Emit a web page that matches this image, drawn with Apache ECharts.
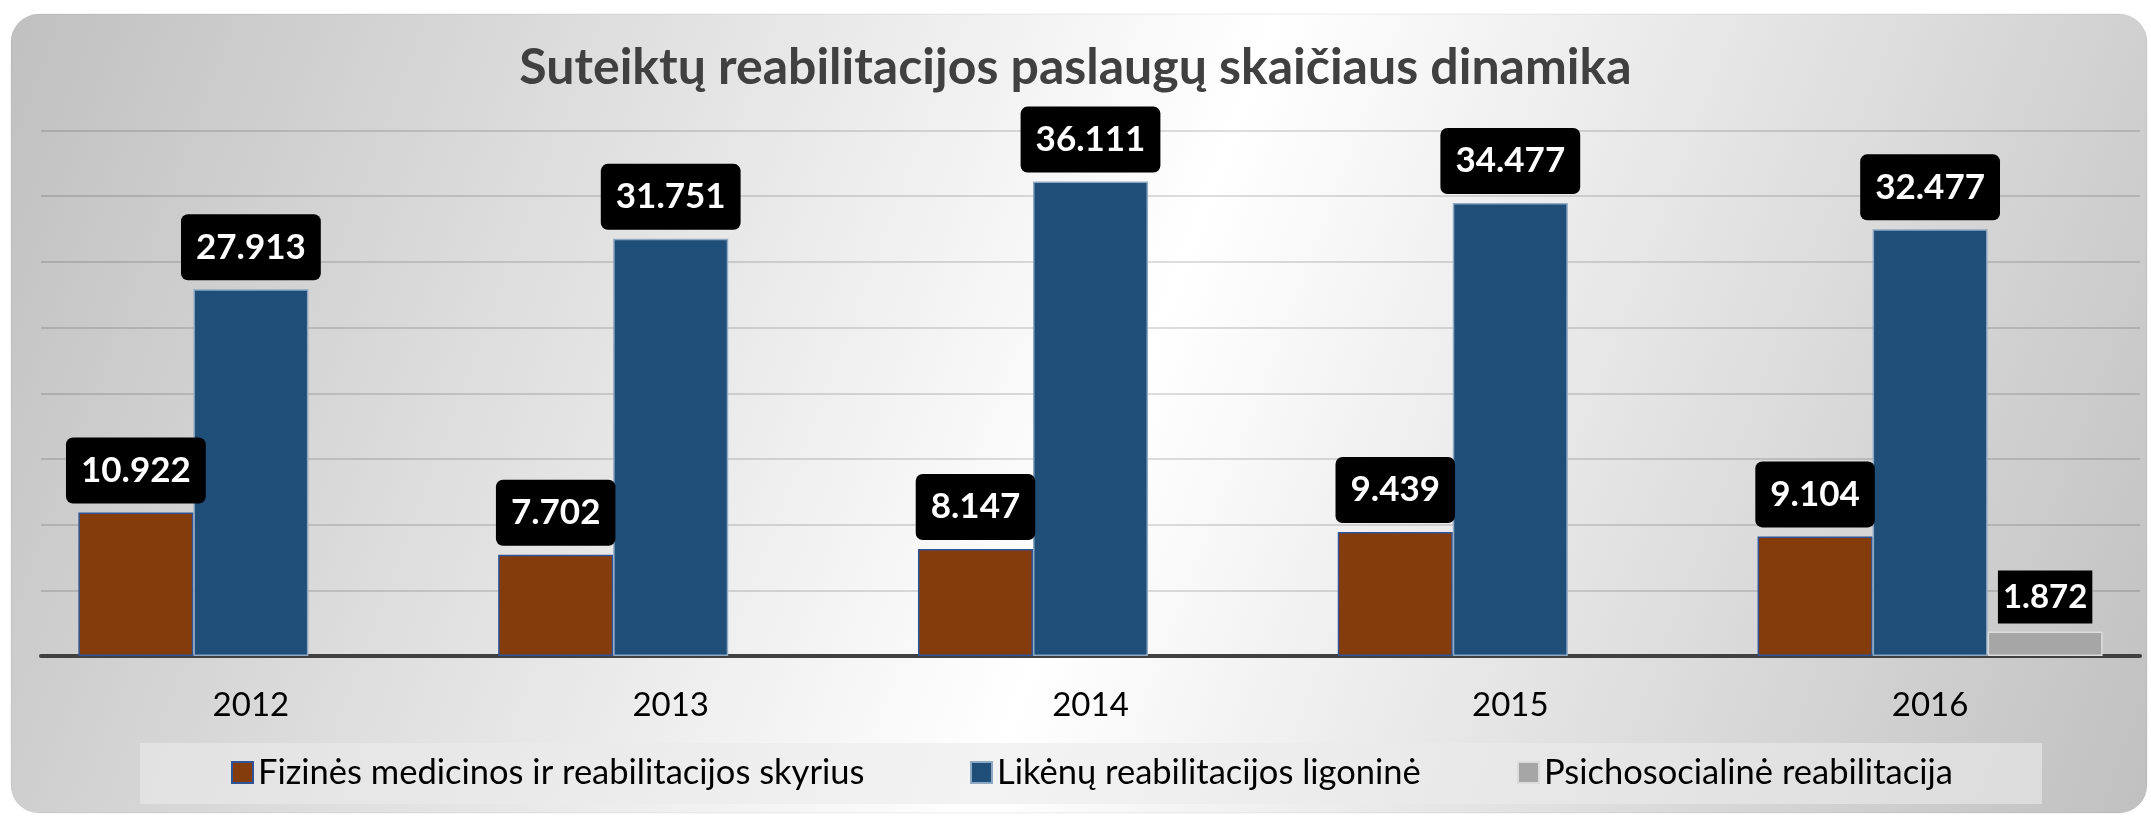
<!DOCTYPE html>
<html>
<head>
<meta charset="utf-8">
<script src="https://cdn.jsdelivr.net/npm/echarts@6/dist/echarts.min.js"></script>
<style>
  html, body { margin: 0; padding: 0; background: #ffffff; }
  #chartArea { width: 2151px; height: 816px; }
</style>
</head>
<body>
<div id="chartArea"></div>
<script>
var years = ['2012', '2013', '2014', '2015', '2016'];
var seriesNames = [
    'Fizinės medicinos ir reabilitacijos skyrius',
    'Likėnų reabilitacijos ligoninė',
    'Psichosocialinė reabilitacija'
];
var fizinesValues = [10922, 7702, 8147, 9439, 9104];
var likenuValues = [27913, 31751, 36111, 34477, 32477];
var psichoValues = [null, null, null, null, 1872];

var colors = ['#843c0c', '#1f4e79', '#a6a6a6'];
var borders = ['#2f5496', '#8fa9c4', '#dcdcdc'];
var font = 'Lato';

function thousands(v) {
    return String(v).replace(/\B(?=(\d{3})+(?!\d))/g, '.');
}

var blackLabel = {
    show: true,
    position: 'top',
    distance: 9,
    formatter: function(p) { return thousands(p.value); },
    color: '#ffffff',
    fontFamily: font,
    fontWeight: 'bold',
    fontSize: 35,
    lineHeight: 40,
    backgroundColor: '#000000',
    borderRadius: 7,
    padding: [13, 15]
};

function barSeries(i, values, label) {
    return {
        name: seriesNames[i],
        type: 'bar',
        data: values,
        barGap: '0%',
        barCategoryGap: '17.8%',
        itemStyle: { color: colors[i], borderColor: borders[i], borderWidth: 1.5 },
        label: label
    };
}

function legendFor(i, left) {
    return {
        left: left,
        top: 755,
        padding: 0,
        icon: 'rect',
        itemWidth: 21,
        itemHeight: 21,
        data: [{ name: seriesNames[i], itemStyle: { color: colors[i], borderColor: i === 0 ? '#2f5496' : borders[i], borderWidth: 2 } }],
        textStyle: { fontFamily: font, fontSize: 34.5, color: '#000000' }
    };
}

var myChart = echarts.init(document.getElementById('chartArea'));

myChart.setOption({
    animation: false,
    graphic: [
        {
            type: 'rect', z: -10, silent: true,
            shape: { x: 11, y: 14, width: 2136, height: 799, r: 28 },
            style: {
                fill: new echarts.graphic.LinearGradient(0, 0, 1, 1, [
                    { offset: 0, color: '#c0c0c0' },
                    { offset: 0.52, color: '#ffffff' },
                    { offset: 1, color: '#c0c0c0' }
                ]),
                stroke: 'rgba(0,0,0,0.07)',
                lineWidth: 1
            }
        },
        {
            type: 'rect', z: -5, silent: true,
            shape: { x: 140, y: 743, width: 1902, height: 61 },
            style: { fill: 'rgba(235,235,235,0.6)' }
        }
    ],
    title: {
        text: 'Suteiktų reabilitacijos paslaugų skaičiaus dinamika',
        left: 'center',
        top: 43,
        padding: [0, 0, 0, 54],
        textStyle: { fontFamily: font, fontWeight: 'bold', fontSize: 50, lineHeight: 50, color: '#404040' }
    },
    legend: [legendFor(0, 231), legendFor(1, 970), legendFor(2, 1517)],
    grid: { left: 41, right: 11, top: 130.5, bottom: 160 },
    xAxis: {
        type: 'category',
        data: years,
        axisLine: { lineStyle: { color: '#404040', width: 4 } },
        axisTick: { show: false },
        axisLabel: { margin: 33, fontFamily: font, fontSize: 33, color: '#000000' }
    },
    yAxis: {
        type: 'value',
        min: 0,
        max: 40000,
        interval: 5000,
        axisLine: { show: false },
        axisTick: { show: false },
        axisLabel: { show: false },
        splitLine: { lineStyle: { color: 'rgba(0,0,0,0.13)', width: 2 } }
    },
    series: [
        barSeries(0, fizinesValues, blackLabel),
        barSeries(1, likenuValues, blackLabel),
        barSeries(2, psichoValues, Object.assign({}, blackLabel, {
            fontSize: 33, lineHeight: 37, borderRadius: 0, padding: [8, 5], distance: 8
        }))
    ]
});
</script>
</body>
</html>
